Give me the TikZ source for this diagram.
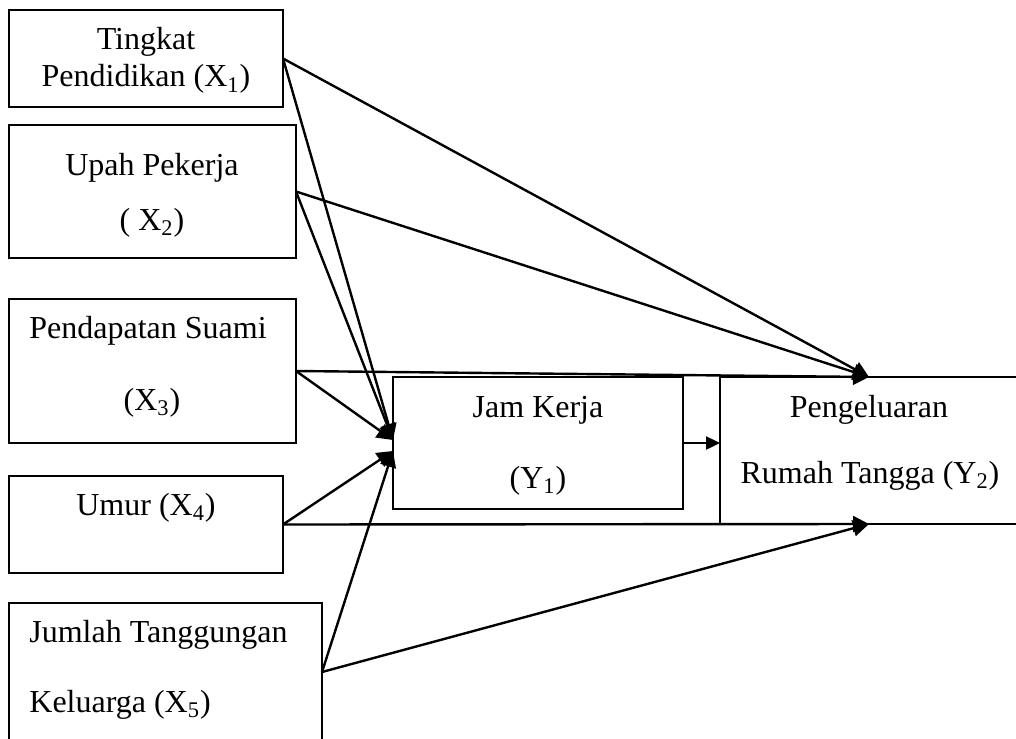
\documentclass[tikz,border=0pt]{standalone}
\usepackage{fontspec}
\setmainfont{Liberation Serif}
\usetikzlibrary{arrows.meta}

\begin{document}
\begin{tikzpicture}[x=0.5pt,y=-0.5pt,
	box/.style={draw,line width=0.9pt,inner sep=0pt,outer sep=0pt},
	txt/.style={anchor=base,inner sep=0pt,font=\fontsize{16}{19}\selectfont},
	arr/.style={line width=1.2pt,-{Triangle[length=8pt,width=8pt]}}]
\useasboundingbox (0,0) rectangle (1016,738);
\clip (0,0) rectangle (1016,738);
\node [box,minimum width=137pt,minimum height=48.5pt] (x1) at (146,58.5) {};
\node [box,minimum width=143.5pt,minimum height=66.5pt] (x2) at (152.5,191.5) {};
\node [box,minimum width=143.5pt,minimum height=72pt] (x3) at (152.5,371) {};
\node [box,minimum width=137pt,minimum height=48.5pt] (x4) at (146,524.5) {};
\node [box,minimum width=156.5pt,minimum height=69pt] (x5) at (165.5,672) {};
\node [box,minimum width=145pt,minimum height=66pt] (y1) at (538,443) {};
\node [box,minimum width=149pt,minimum height=73.5pt] (y2) at (869,450.5) {};
\node [txt] (t1a) at (146,50) {Tingkat};
\node [txt] (t1b) at (146,87) {Pendidikan (X\textsubscript{1})};
\node [txt] (t2a) at (152,175) {Upah Pekerja};
\node [txt] (t2b) at (152,230) {( X\textsubscript{2})};
\node [txt,anchor=base west] (t3a) at (29,338) {Pendapatan Suami};
\node [txt] (t3b) at (152,410) {(X\textsubscript{3})};
\node [txt] (t4) at (146,515) {Umur (X\textsubscript{4})};
\node [txt,anchor=base west] (t5a) at (29,642) {Jumlah Tanggungan};
\node [txt,anchor=base west] (t5b) at (29,712) {Keluarga (X\textsubscript{5})};
\node [txt] (t6a) at (538,417) {Jam Kerja};
\node [txt] (t6b) at (538,488) {(Y\textsubscript{1})};
\node [txt] (t7a) at (869,417) {Pengeluaran};
\node [txt] (t7b) at (870,483) {Rumah Tangga (Y\textsubscript{2})};
\foreach \n in {x1,x2,x3}{
	\draw [arr] (\n.east) -- ([yshift=1.5pt]y1.west);
	\draw [arr] (\n.east) -- (y2.north);
}
\foreach \n in {x4,x5}{
	\draw [arr] (\n.east) -- ([yshift=-4pt]y1.west);
	\draw [arr] (\n.east) -- (y2.south);
}
\draw [arr,-{Triangle[length=7pt,width=6.5pt]}] (y1.east) -- (y1.east -| y2.west);
\end{tikzpicture}
\end{document}
